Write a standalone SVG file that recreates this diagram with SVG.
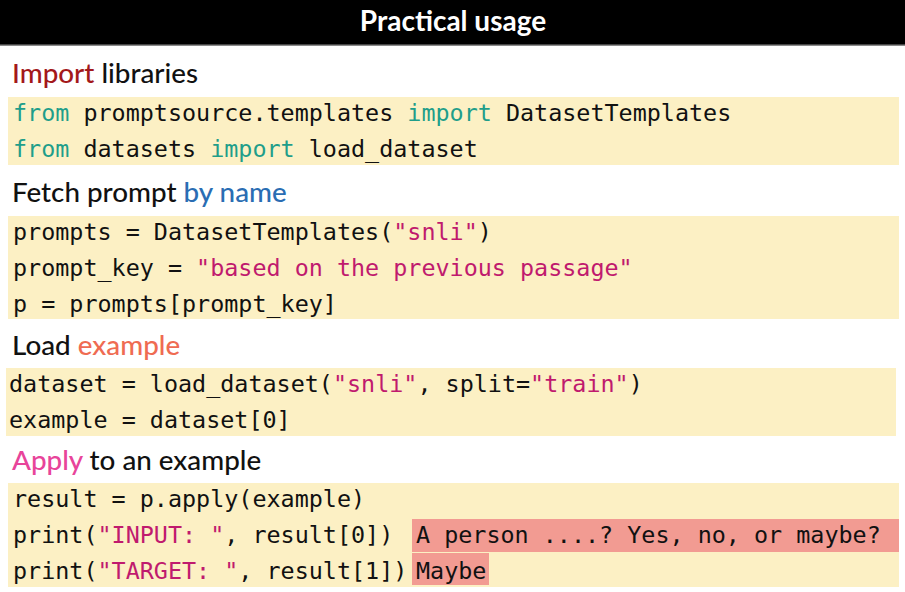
<svg xmlns="http://www.w3.org/2000/svg" width="905" height="592" viewBox="0 0 905 592">
<style>
.h{font-family:Lato,"Noto Sans",sans-serif;font-size:27.8px;font-weight:500;fill:#111}
.c{font-family:"DejaVu Sans Mono",monospace;font-size:23.4px;fill:#111;white-space:pre}
.k{fill:#1f9e8a}
.s{fill:#c01a6e}
.blk{fill:#fcf0c4}
.hl{fill:#f29b92}
</style>
<rect width="905" height="592" fill="#fff"/>
<g id="header">
<rect x="0" y="0" width="905" height="45" fill="#000"/>
<rect x="0" y="44.5" width="905" height="1.5" fill="#8a8a8a"/>
<text x="453" y="31" text-anchor="middle" font-family="Lato,'Noto Sans',sans-serif" font-size="28" font-weight="700" fill="#fff">Practical usage</text>
</g>
<g id="import">
<text class="h" x="12" y="83"><tspan fill="#a3181a">Import</tspan> libraries</text>
<rect class="blk" x="8" y="97" width="891" height="68"/>
<text class="c" x="13" y="121"><tspan class="k">from</tspan> promptsource.templates <tspan class="k">import</tspan> DatasetTemplates</text>
<text class="c" x="13" y="157"><tspan class="k">from</tspan> datasets <tspan class="k">import</tspan> load_dataset</text>
</g>
<g id="fetch">
<text class="h" x="12" y="202">Fetch prompt <tspan fill="#2a6db3">by name</tspan></text>
<rect class="blk" x="8" y="216" width="891" height="103"/>
<text class="c" x="13" y="240">prompts = DatasetTemplates(<tspan class="s">"snli"</tspan>)</text>
<text class="c" x="13" y="276">prompt_key = <tspan class="s">"based on the previous passage"</tspan></text>
<text class="c" x="13" y="312">p = prompts[prompt_key]</text>
</g>
<g id="load">
<text class="h" x="12" y="355">Load <tspan fill="#ef6b52">example</tspan></text>
<rect class="blk" x="6" y="368" width="890" height="68"/>
<text class="c" x="9" y="392">dataset = load_dataset(<tspan class="s">"snli"</tspan>, split=<tspan class="s">"train"</tspan>)</text>
<text class="c" x="9" y="428">example = dataset[0]</text>
</g>
<g id="apply">
<text class="h" x="12" y="470"><tspan fill="#e8449a">Apply</tspan> to an example</text>
<rect class="blk" x="8" y="483" width="891" height="104"/>
<rect class="hl" x="412" y="519" width="487" height="33"/>
<rect class="hl" x="412" y="553" width="77" height="32"/>
<text class="c" x="13" y="507">result = p.apply(example)</text>
<text class="c" x="13" y="543">print(<tspan class="s">"INPUT: "</tspan>, result[0])</text>
<text class="c" x="13" y="579">print(<tspan class="s">"TARGET: "</tspan>, result[1])</text>
<text class="c" x="416" y="543">A person ....? Yes, no, or maybe?</text>
<text class="c" x="416" y="579">Maybe</text>
</g>
</svg>
